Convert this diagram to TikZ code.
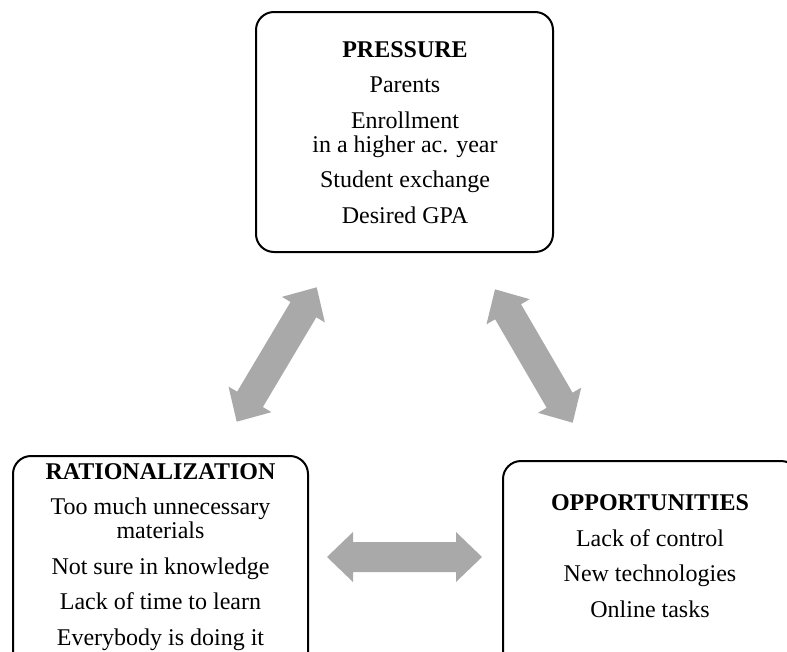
\documentclass[tikz,border=0pt]{standalone}
\usepackage{fontspec}
\setmainfont{Liberation Serif}
\usetikzlibrary{calc}

% double-headed block arrow between two named points
\newcommand\fatarrow[2]{%
  \fill[arrowfill] (#1)
    -- ($(#1)!26pt!(#2)!25pt!90:(#1)$)
    -- ($(#1)!26pt!(#2)!15pt!90:(#1)$)
    -- ($(#2)!26pt!(#1)!15pt!-90:(#2)$)
    -- ($(#2)!26pt!(#1)!25pt!-90:(#2)$)
    -- (#2)
    -- ($(#2)!26pt!(#1)!25pt!90:(#2)$)
    -- ($(#2)!26pt!(#1)!15pt!90:(#2)$)
    -- ($(#1)!26pt!(#2)!15pt!-90:(#1)$)
    -- ($(#1)!26pt!(#2)!25pt!-90:(#1)$)
    -- cycle;}

\begin{document}
\begin{tikzpicture}[x=1pt,y=-1pt,
  box/.style={draw=black, line width=2pt, rounded corners=18pt, fill=white, inner sep=0pt},
  txt/.style={align=center, inner sep=0pt, anchor=base,
    font=\fontsize{24}{24.4}\selectfont},
  arrowfill/.style={fill=arrowgray}]
\definecolor{arrowgray}{HTML}{A9A9A9}
\useasboundingbox (0,0) rectangle (787,651);
\clip (0,0) rectangle (787,651);

% the three boxes
\node[box, minimum width=297pt, minimum height=240pt] (pressure) at (404.5,132) {};
\node[box, minimum width=295pt, minimum height=240pt, anchor=north west] (rational) at (12,455) {};
\node[box, minimum width=296pt, minimum height=240pt, anchor=north west] (opport) at (502,460) {};

% box contents (anchored at the baseline of the last line)
\node[txt] (pressuretext) at (405,223.3) {\textbf{PRESSURE}\\[11pt]
  Parents\\[11pt]
  Enrollment\\
  in a higher ac. year\\[11pt]
  Student exchange\\[11pt]
  Desired GPA};
\node[txt] (rationaltext) at (160.5,645) {\textbf{RATIONALIZATION}\\[11pt]
  Too much unnecessary\\
  materials\\[11pt]
  Not sure in knowledge\\[11pt]
  Lack of time to learn\\[11pt]
  Everybody is doing it};
\node[txt] (opporttext) at (650,617) {\textbf{OPPORTUNITIES}\\[11pt]
  Lack of control\\[11pt]
  New technologies\\[11pt]
  Online tasks};

% arrow end points
\coordinate (lA) at (236.7,421.7);
\coordinate (lB) at (316.7,287.3);
\coordinate (rA) at (495,289.3);
\coordinate (rB) at (572.7,422.7);
\coordinate (hA) at (327,557);
\coordinate (hB) at (482,557);

\fatarrow{lA}{lB}
\fatarrow{rA}{rB}
\fatarrow{hA}{hB}
\end{tikzpicture}
\end{document}
